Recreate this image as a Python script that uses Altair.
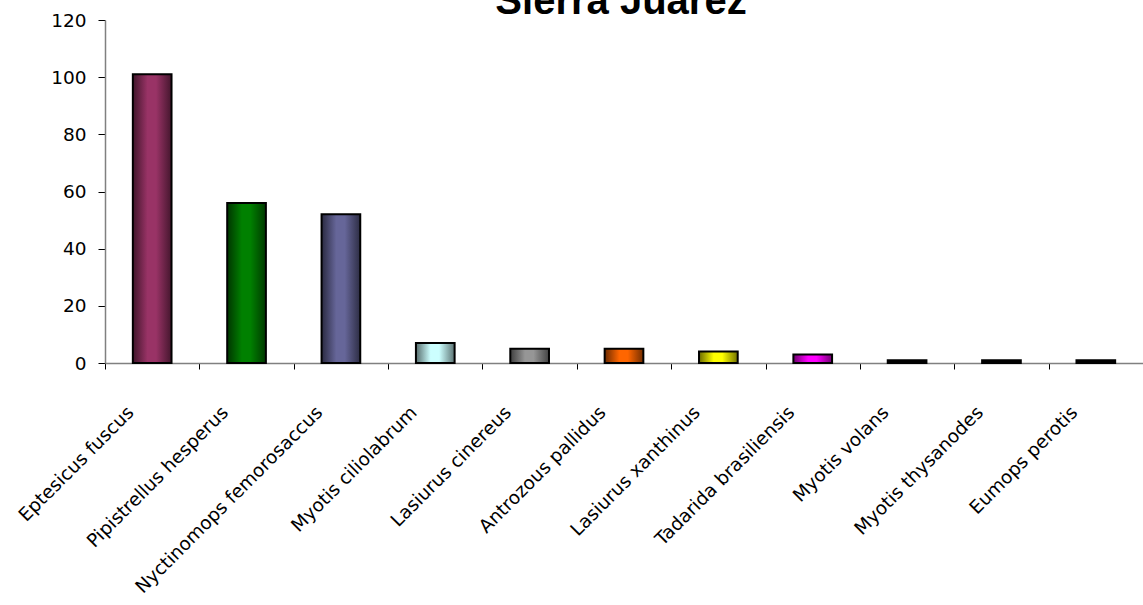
import altair as alt
import pandas as pd

species = [
    "Eptesicus fuscus", "Pipistrellus hesperus", "Nyctinomops femorosaccus",
    "Myotis ciliolabrum", "Lasiurus cinereus", "Antrozous pallidus",
    "Lasiurus xanthinus", "Tadarida brasiliensis", "Myotis volans",
    "Myotis thysanodes", "Eumops perotis",
]
counts = [101, 56, 52, 7, 5, 5, 4, 3, 1, 1, 1]
colors = ["#993366", "#008000", "#666699", "#CCFFFF", "#969696", "#FF6600",
          "#FFFF00", "#FF00FF", "#000000", "#000000", "#000000"]

df = pd.DataFrame({"species": species, "count": counts})


def shade(hexcol, f):
    h = hexcol.lstrip("#")
    r, g, b = (int(h[i:i + 2], 16) for i in (0, 2, 4))
    return "#%02x%02x%02x" % (int(r * f), int(g * f), int(b * f))


def grad(c):
    return alt.Gradient(
        gradient="linear", x1=0, x2=1, y1=0, y2=0,
        stops=[
            alt.GradientStop(color=shade(c, 0.42), offset=0),
            alt.GradientStop(color=c, offset=0.38),
            alt.GradientStop(color=c, offset=0.6),
            alt.GradientStop(color=shade(c, 0.45), offset=1),
        ],
    )


x_enc = alt.X(
    "species:N", sort=species, title=None,
    scale=alt.Scale(paddingInner=0, paddingOuter=0),
    axis=alt.Axis(
        labelAngle=-45, labelAlign="right", labelBaseline="middle",
        labelFont="DejaVu Sans", labelFontSize=18.5, labelColor="black",
        labelPadding=40, labelOffset=-22, tickBand="extent",
        tickSize=6, tickColor="black", tickWidth=1,
        domainColor="#808080", domainWidth=1.5, labelOverlap=False,
        labelLimit=400, grid=False,
    ),
)
y_enc = alt.Y(
    "count:Q", title=None,
    scale=alt.Scale(domain=[0, 120], nice=False),
    axis=alt.Axis(
        values=[0, 20, 40, 60, 80, 100, 120], grid=False,
        labelFont="DejaVu Sans", labelFontSize=18.5, labelColor="black",
        labelPadding=12, tickSize=7, tickColor="black", tickWidth=1,
        domainColor="#808080", domainWidth=1.5,
    ),
)

layers = []
for name, col in zip(species, colors):
    layers.append(
        alt.Chart(df)
        .transform_filter(alt.datum.species == name)
        .mark_bar(
            fill=grad(col), stroke="black", strokeWidth=2,
            width=alt.RelativeBandSize(0.41),
        )
        .encode(x=x_enc, y=y_enc)
    )

chart = (
    alt.layer(*layers)
    .properties(
        width=1038, height=343,
        background="white",
        autosize=alt.AutoSizeParams(type="none"),
        padding={"left": 105, "top": 20, "right": 0, "bottom": 242},
        title=alt.TitleParams(
            "Sierra Juarez", font="Liberation Sans", fontSize=40,
            fontWeight="bold", color="black", anchor="middle",
            frame="group", dx=-3, offset=0, baseline="alphabetic", dy=43,
        ),
    )
    .configure_view(strokeWidth=0)
)

chart.save("out.html", embed_options={"renderer": "svg", "actions": False})
